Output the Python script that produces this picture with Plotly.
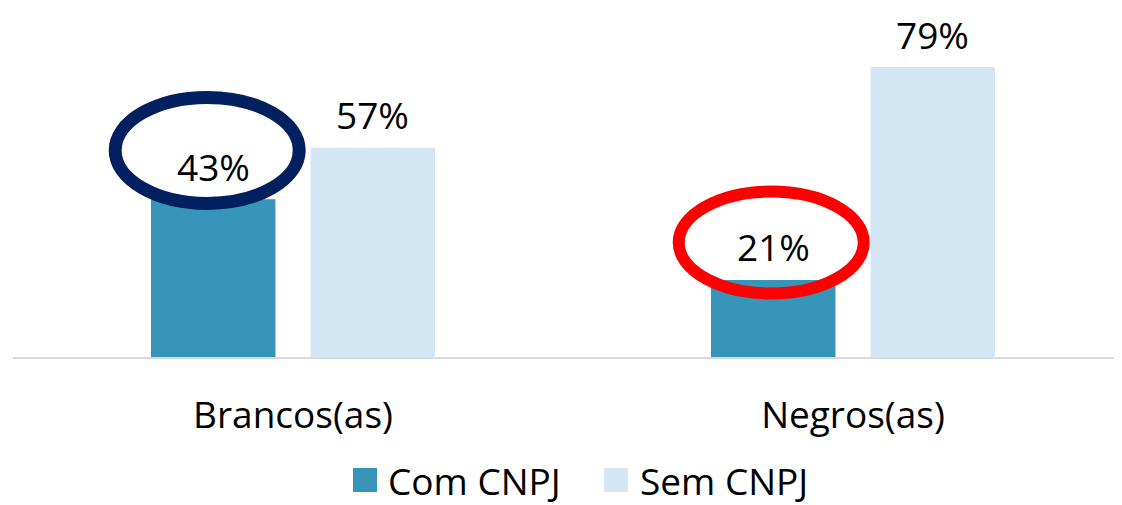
import plotly.graph_objects as go

categories = ["Brancos(as)", "Negros(as)"]
series_names = ["Com CNPJ", "Sem CNPJ"]
com_cnpj = [43, 21]
sem_cnpj = [57, 79]
colors = ["#3795BA", "#D2E6F4"]

FONT = "Open Sans"
FS = 37
# page is offset by the 8px body margin: size the figure so it fills the window
W, H = 1114, 497
ML, MR, MT, MB = 5, 0, 0, 148
PW, PH = W - ML - MR, H - MT - MB
PX_PER_UNIT = 3.67
YMAX = PH / PX_PER_UNIT
CATW = 560.0
XMAX = -0.5 + PW / CATW
BARGAP = 0.43
GROUPGAP = 0.22
slot = (1 - BARGAP) / 2
offs = [-slot / 2, slot / 2]

fig = go.Figure()
for name, vals, col in zip(series_names, [com_cnpj, sem_cnpj], colors):
    fig.add_trace(go.Bar(x=categories, y=vals, name=name, marker_color=col,
                         marker_line_width=0, showlegend=False))

# value labels
for si, vals in enumerate([com_cnpj, sem_cnpj]):
    for ci, v in enumerate(vals):
        fig.add_annotation(x=ci + offs[si], y=v, xref="x", yref="y",
                           text=f"{v}%", showarrow=False, yshift=33,
                           yanchor="middle",
                           font=dict(family=FONT, size=FS, color="#000000"))

# highlight ellipses around the "Com CNPJ" labels (offsets in px)
ell = [(0, "#002060", 13, -6, 13.3 * PX_PER_UNIT, 92, 53),
       (1, "#FF0000", 12, -2, 10.2 * PX_PER_UNIT, 92.5, 51)]
for ci, col, lw, dxp, dyp, rxp, ryp in ell:
    cx = ci + offs[0] + dxp / CATW
    cy = com_cnpj[ci] + dyp / PX_PER_UNIT
    rx, ry = rxp / CATW, ryp / PX_PER_UNIT
    fig.add_shape(type="circle", xref="x", yref="y",
                  x0=cx - rx, x1=cx + rx, y0=cy - ry, y1=cy + ry,
                  line=dict(color=col, width=lw), fillcolor="rgba(0,0,0,0)")

# manual legend (page-pixel positions converted to paper coords)
def px_x(p):
    return (p - 8 - ML) / PW

def px_y(p):
    return (MT + PH + 8 - p) / PH

LEG_CY = 480
legend_items = [(353, 386), (604, 638)]
for (sx, tx), name, col in zip(legend_items, series_names, colors):
    fig.add_shape(type="rect", xref="paper", yref="paper",
                  x0=px_x(sx), x1=px_x(sx + 24), y0=px_y(LEG_CY + 12), y1=px_y(LEG_CY - 12),
                  fillcolor=col, line_width=0)
    fig.add_annotation(x=px_x(tx), y=px_y(LEG_CY), xref="paper", yref="paper",
                       xanchor="left", yanchor="middle", text=name, showarrow=False,
                       font=dict(family=FONT, size=FS, color="#000000"))

fig.update_layout(
    width=W, height=H,
    margin=dict(l=ML, r=MR, t=MT, b=MB),
    paper_bgcolor="white", plot_bgcolor="white",
    barmode="group", bargap=BARGAP, bargroupgap=GROUPGAP,
    font=dict(family=FONT, size=FS, color="#000000"),
    xaxis=dict(range=[-0.5, XMAX], showline=True, linecolor="#D9D9D9", linewidth=2,
               ticks="", showgrid=False, ticklabelstandoff=25,
               tickfont=dict(family=FONT, size=FS, color="#000000")),
    yaxis=dict(range=[0, YMAX], visible=False, showgrid=False, zeroline=False),
)

fig.write_html("out.html")
